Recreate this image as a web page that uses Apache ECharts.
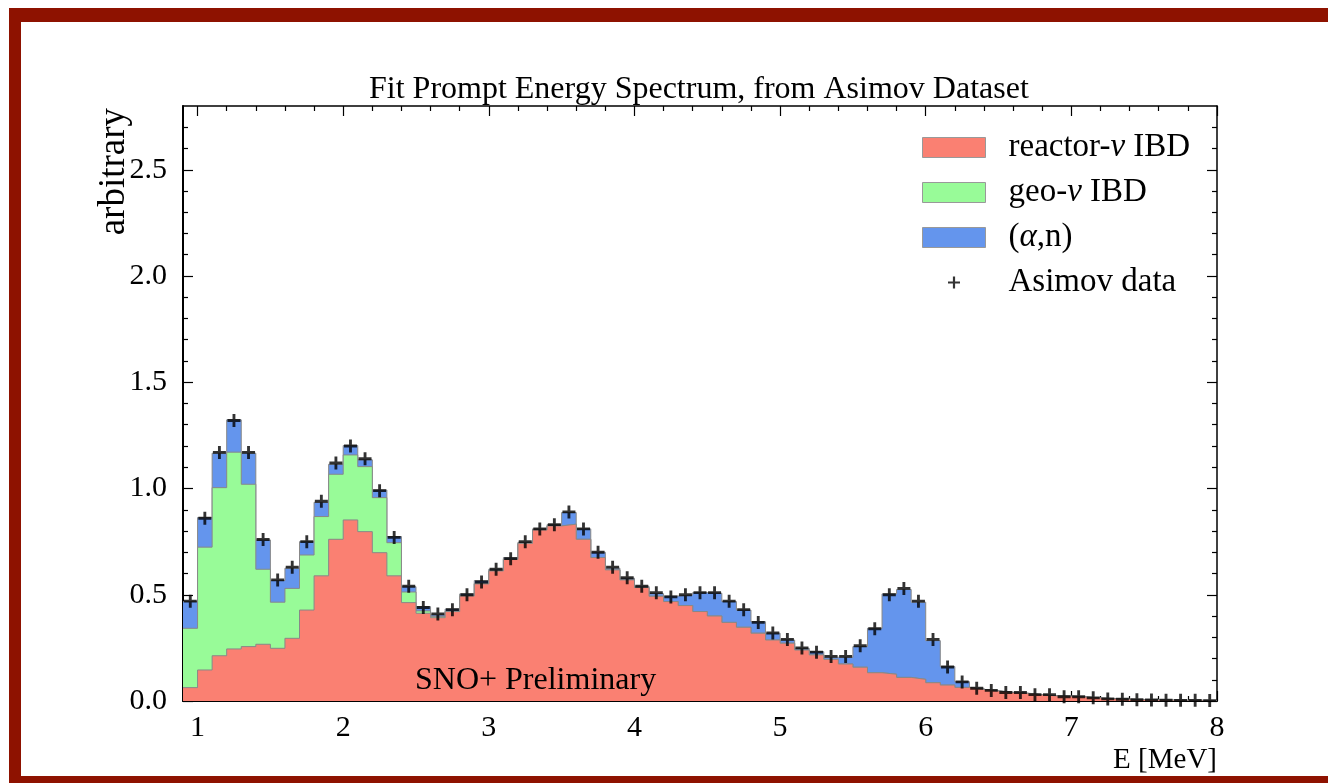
<!DOCTYPE html>
<html><head><meta charset="utf-8">
<script src="https://cdn.jsdelivr.net/npm/echarts@6/dist/echarts.min.js"></script>
<style>html,body{margin:0;padding:0;background:#fff}#c{width:1328px;height:783px}</style>
</head><body><div id="c"></div><script>
// Bin edges (MeV), 0.1 MeV bins
const binEdges = [0.9,1.0,1.1,1.2,1.3,1.4,1.5,1.6,1.7,1.8,1.9,2.0,2.1,2.2,2.3,2.4,2.5,2.6,2.7,2.8,2.9,3.0,3.1,3.2,3.3,3.4,3.5,3.6,3.7,3.8,3.9,4.0,4.1,4.2,4.3,4.4,4.5,4.6,4.7,4.8,4.9,5.0,5.1,5.2,5.3,5.4,5.5,5.6,5.7,5.8,5.9,6.0,6.1,6.2,6.3,6.4,6.5,6.6,6.7,6.8,6.9,7.0,7.1,7.2,7.3,7.4,7.5,7.6,7.7,7.8,7.9,8.0];
const reactor = [0.063,0.146,0.213,0.245,0.256,0.267,0.248,0.295,0.428,0.589,0.761,0.852,0.797,0.698,0.589,0.463,0.413,0.392,0.421,0.494,0.551,0.612,0.667,0.742,0.805,0.824,0.832,0.761,0.675,0.617,0.570,0.534,0.493,0.468,0.449,0.421,0.400,0.370,0.347,0.319,0.287,0.272,0.240,0.217,0.196,0.174,0.159,0.133,0.126,0.111,0.102,0.086,0.075,0.064,0.055,0.047,0.040,0.036,0.029,0.024,0.022,0.019,0.014,0.011,0.008,0.006,0.005,0.004,0.003,0.003,0.002];
const geo = [0.279,0.578,0.791,0.926,0.764,0.353,0.217,0.235,0.259,0.279,0.306,0.306,0.306,0.259,0.156,0.050,0.011,0.005,0.002,0.002,0.002,0.001,0.001,0,0,0,0,0,0,0,0,0,0,0,0,0,0,0,0,0,0,0,0,0,0,0,0,0,0,0,0,0,0,0,0,0,0,0,0,0,0,0,0,0,0,0,0,0,0,0,0];
const alphaN = [0.126,0.139,0.162,0.152,0.146,0.138,0.102,0.095,0.063,0.067,0.047,0.044,0.032,0.036,0.029,0.025,0.020,0.008,0.010,0.008,0.014,0.007,0.007,0.005,0.005,0.006,0.055,0.049,0.025,0.008,0.008,0.006,0.012,0.026,0.050,0.089,0.107,0.098,0.081,0.054,0.032,0.015,0.008,0.015,0.010,0.032,0.097,0.209,0.378,0.414,0.363,0.198,0.087,0.027,0.005,0.002,0.001,0.001,0.001,0.001,0.001,0.001,0,0,0,0,0,0,0,0,0];
const asimov = [0.47,0.86,1.17,1.32,1.17,0.76,0.57,0.63,0.75,0.94,1.12,1.20,1.14,0.99,0.77,0.54,0.44,0.41,0.43,0.50,0.56,0.62,0.67,0.75,0.81,0.83,0.89,0.81,0.70,0.63,0.58,0.54,0.51,0.49,0.50,0.51,0.51,0.47,0.43,0.37,0.32,0.29,0.25,0.23,0.21,0.21,0.26,0.34,0.50,0.53,0.47,0.29,0.16,0.09,0.06,0.05,0.04,0.04,0.03,0.03,0.02,0.02,0.015,0.01,0.008,0.006,0.005,0.004,0.003,0.003,0.002];
const xMajorTicks = [1,2,3,4,5,6,7,8];
const xMinorTicks = [1.2,1.4,1.6,1.8,2.2,2.4,2.6,2.8,3.2,3.4,3.6,3.8,4.2,4.4,4.6,4.8,5.2,5.4,5.6,5.8,6.2,6.4,6.6,6.8,7.2,7.4,7.6,7.8];
const yMajorTicks = [0,0.5,1.0,1.5,2.0,2.5];
const yMinorTicks = [0.1,0.2,0.3,0.4,0.6,0.7,0.8,0.9,1.1,1.2,1.3,1.4,1.6,1.7,1.8,1.9,2.1,2.2,2.3,2.4,2.6,2.7];

const FONT = 'Liberation Serif';
const colReactor = '#fa8072', colGeo = '#98fb98', colAlpha = '#6495ed';

// cumulative tops for stacked histogram
const topR = reactor.slice();
const topG = reactor.map((v,i)=>v+geo[i]);
const topA = topG.map((v,i)=>v+alphaN[i]);
function stepData(arr){
  const d = arr.map((v,i)=>[binEdges[i], v]);
  d.push([binEdges[binEdges.length-1], arr[arr.length-1]]);
  return d;
}
const centers = asimov.map((v,i)=>[(binEdges[i]+binEdges[i+1])/2, v]);

const plusPath = 'path://M3.9,0H6.1V3.9H10V6.1H6.1V10H3.9V6.1H0V3.9H3.9Z';
const plusLegend = 'path://M0,0M20,20M8.9,4H11.1V8.9H16V11.1H11.1V16H8.9V11.1H4V8.9H8.9Z';

function xAxis(pos, major, labels){
  return {
    type:'value', min:0.9, max:8, position:pos,
    axisLine:{show:major, onZero:false, lineStyle:{color:'#000', width: pos==='bottom'?2:1.5}},
    axisTick:{show:true, inside:true, length: major?10:5, customValues: major?xMajorTicks:xMinorTicks, lineStyle:{color:'#000', width:1.2}},
    axisLabel:{show:labels, customValues:xMajorTicks, margin:12, color:'#000', fontFamily:FONT, fontSize:30},
    splitLine:{show:false}
  };
}
function yAxis(pos, major, labels){
  return {
    type:'value', min:0, max:2.8, position:pos,
    axisLine:{show:major, onZero:false, lineStyle:{color:'#000', width: pos==='left'?2:1.5}},
    axisTick:{show:true, inside:true, length: major?10:5, customValues: major?yMajorTicks:yMinorTicks, lineStyle:{color:'#000', width:1.2}},
    axisLabel:{show:labels, customValues:yMajorTicks, margin:16, color:'#000', fontFamily:FONT, fontSize:30, formatter:v=>v.toFixed(1)},
    splitLine:{show:false}
  };
}

const legendRich = {
  n:{fontFamily:FONT, fontSize:33, color:'#000', lineHeight:30},
  g:{fontFamily:FONT, fontSize:33, fontStyle:'italic', color:'#000', lineHeight:30}
};
const legendLabels = {
  'reactor-ν IBD':'{n|reactor-}{g|ν}{n| IBD}',
  'geo-ν IBD':'{n|geo-}{g|ν}{n| IBD}',
  '(α,n)':'{n|(}{g|α}{n|,n)}',
  'Asimov data':'{n|Asimov data}'
};

const chart = echarts.init(document.getElementById('c'), null, {renderer:'canvas'});
chart.setOption({
  animation:false,
  backgroundColor:'#fff',
  title:{text:'Fit Prompt Energy Spectrum, from Asimov Dataset', left:364, top:69,
    textStyle:{fontFamily:FONT, fontSize:32, fontWeight:'normal', color:'#000'}},
  grid:{left:183, right:111, top:106, bottom:82, containLabel:false},
  xAxis:[xAxis('bottom',true,true), xAxis('bottom',false,false), xAxis('top',true,false), xAxis('top',false,false)],
  yAxis:[yAxis('left',true,true), yAxis('left',false,false), yAxis('right',true,false), yAxis('right',false,false)],
  legend:{
    orient:'vertical', left:922, top:131, itemWidth:63, itemHeight:20, itemGap:12, padding:0,
    icon:'rect',
    itemStyle:{borderColor:'#999', borderWidth:1},
    formatter:name=>legendLabels[name] || name,
    textStyle:{fontFamily:FONT, fontSize:33, color:'#000', lineHeight:30, padding:[0,0,0,18], rich:legendRich},
    data:[
      {name:'reactor-ν IBD'},
      {name:'geo-ν IBD'},
      {name:'(α,n)'},
      {name:'Asimov data', icon:plusLegend, itemStyle:{color:'#000', borderWidth:0}}
    ]
  },
  graphic:[
    {type:'rect', shape:{x:9, y:8, width:1319, height:14}, style:{fill:'#8e1200'}},
    {type:'rect', shape:{x:9, y:8, width:12, height:775}, style:{fill:'#8e1200'}},
    {type:'rect', shape:{x:9, y:776, width:1319, height:7}, style:{fill:'#8e1200'}},
    {type:'text', x:114, y:108, rotation:Math.PI/2, style:{text:'arbitrary', fontFamily:FONT, fontSize:37, fill:'#000', align:'right', verticalAlign:'middle'}},
    {type:'text', x:1217, y:746, style:{text:'E [MeV]', fontFamily:FONT, fontSize:29, fill:'#000', align:'right', verticalAlign:'top'}},
    {type:'text', x:415, y:681, z:100, style:{text:'SNO+ Preliminary', fontFamily:FONT, fontSize:32, fill:'#000', align:'left', verticalAlign:'middle'}}
  ],
  series:[
    {name:'(α,n)', type:'line', step:'end', data:stepData(topA), showSymbol:false, symbol:'none',
      itemStyle:{color:colAlpha}, lineStyle:{color:'#888', width:1}, areaStyle:{color:colAlpha, opacity:1}, z:2},
    {name:'geo-ν IBD', type:'line', step:'end', data:stepData(topG), showSymbol:false, symbol:'none',
      itemStyle:{color:colGeo}, lineStyle:{color:'#888', width:1}, areaStyle:{color:colGeo, opacity:1}, z:3},
    {name:'reactor-ν IBD', type:'line', step:'end', data:stepData(topR), showSymbol:false, symbol:'none',
      itemStyle:{color:colReactor}, lineStyle:{color:'#888', width:1}, areaStyle:{color:colReactor, opacity:1}, z:4},
    {name:'Asimov data', type:'scatter', data:centers, symbol:plusPath, symbolSize:13,
      itemStyle:{color:'#000'}, z:10}
  ]
});
</script></body></html>
